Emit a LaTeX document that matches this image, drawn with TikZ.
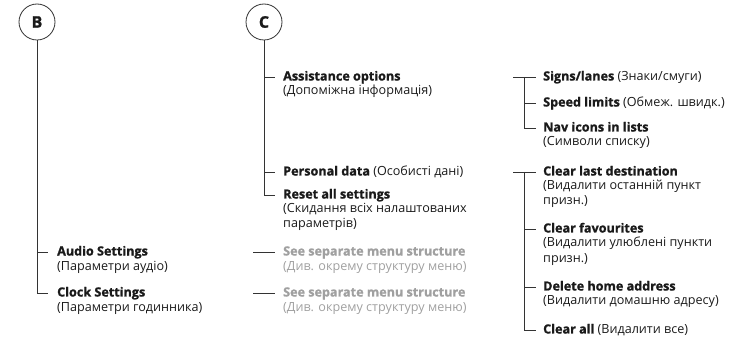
\documentclass[tikz,border=0pt]{standalone}
\usepackage{fontspec}
\setmainfont{Open Sans}[BoldFeatures={FakeBold=1.2}]
\definecolor{linec}{HTML}{333333}
\definecolor{textc}{HTML}{1A1A1A}
\definecolor{greyc}{HTML}{A0A0A0}
\begin{document}
\begin{tikzpicture}[x=1pt,y=-1pt,
  conn/.style={draw=linec, line width=0.8pt},
  circ/.style={circle, draw=linec, line width=0.8pt, minimum size=36pt, inner sep=0pt, text=textc, font=\fontsize{16}{16}\selectfont\bfseries},
  head/.style={anchor=west, inner sep=0pt, text height=9.5pt, text depth=2.5pt, text=textc, font=\fontsize{12.6}{14}\selectfont},
  sub/.style={anchor=base west, inner sep=0pt, text=textc, font=\fontsize{12.6}{14}\selectfont},
  greytxt/.style={text=greyc}]
\useasboundingbox (0,0) rectangle (748,342);

% ---- B ----
\node[circ] (B) at (37,22) {B};
\node[head] (audio) at (57,252) {\textbf{Audio Settings}};
\node[sub] (audio2) at (57,270) {(Параметри аудіо)};
\node[head] (clock) at (57,293) {\textbf{Clock Settings}};
\node[sub] (clock2) at (57,311) {(Параметри годинника)};
\draw[conn] (B.south) -- (B.south |- clock.west) -- ([xshift=-9pt]clock.west);
\draw[conn] (B.south |- audio.west) -- ([xshift=-9pt]audio.west);

% ---- C ----
\node[circ] (C) at (264,22) {C};
\node[head] (assist) at (283,77) {\textbf{Assistance options}};
\node[sub] (assist2) at (283,95) {(Допоміжна інформація)};
\node[head] (personal) at (283,172) {\textbf{Personal data} (Особисті дані)};
\node[head] (reset) at (283,195) {\textbf{Reset all settings}};
\node[sub] (reset2) at (283,213) {(Скидання всіх налаштованих};
\node[sub] (reset3) at (283,228) {параметрів)};
\draw[conn] (C.south) -- (C.south |- reset.west) -- ([xshift=-8pt]reset.west);
\draw[conn] (C.south |- assist.west) -- ([xshift=-8pt]assist.west);
\draw[conn] (C.south |- personal.west) -- ([xshift=-8pt]personal.west);

% ---- see separate ----
\node[head, greytxt] (see1) at (283,252) {\textbf{See separate menu structure}};
\node[sub, greytxt] (see1b) at (283,270) {(Див. окрему структуру меню)};
\node[head, greytxt] (see2) at (283,293) {\textbf{See separate menu structure}};
\node[sub, greytxt] (see2b) at (283,311) {(Див. окрему структуру меню)};
\coordinate (s1) at (253,252);
\coordinate (s2) at (253,293);
\draw[conn] (s1) -- ([xshift=-8pt]see1.west);
\draw[conn] (s2) -- ([xshift=-8pt]see2.west);

% ---- right upper ----
\node[head] (signs) at (543,77) {\textbf{Signs/lanes} (Знаки/смуги)};
\node[head] (speed) at (543,103) {\textbf{Speed limits} (Обмеж. швидк.)};
\node[head] (nav) at (543,128) {\textbf{Nav icons in lists}};
\node[sub] (nav2) at (543,146) {(Символи списку)};
\coordinate (r1) at (513,77);
\coordinate (v1) at (524,77);
\draw[conn] (r1) -- ([xshift=-7pt]signs.west);
\draw[conn] (v1) -- (v1 |- nav.west) -- ([xshift=-7pt]nav.west);
\draw[conn] (v1 |- speed.west) -- ([xshift=-7pt]speed.west);

% ---- right lower ----
\node[head] (last) at (543,172) {\textbf{Clear last destination}};
\node[sub] (last2) at (543,190) {(Видалити останній пункт};
\node[sub] (last3) at (543,205) {призн.)};
\node[head] (fav) at (543,229) {\textbf{Clear favourites}};
\node[sub] (fav2) at (543,247) {(Видалити улюблені пункти};
\node[sub] (fav3) at (543,262) {призн.)};
\node[head] (home) at (543,287) {\textbf{Delete home address}};
\node[sub] (home2) at (543,305) {(Видалити домашню адресу)};
\node[head] (all) at (543,330) {\textbf{Clear all} (Видалити все)};
\coordinate (r2) at (513,172);
\coordinate (v2) at (524,172);
\draw[conn] (r2) -- ([xshift=-7pt]last.west);
\draw[conn] (v2) -- (v2 |- all.west) -- ([xshift=-7pt]all.west);
\draw[conn] (v2 |- fav.west) -- ([xshift=-7pt]fav.west);
\draw[conn] (v2 |- home.west) -- ([xshift=-7pt]home.west);
\end{tikzpicture}
\end{document}
